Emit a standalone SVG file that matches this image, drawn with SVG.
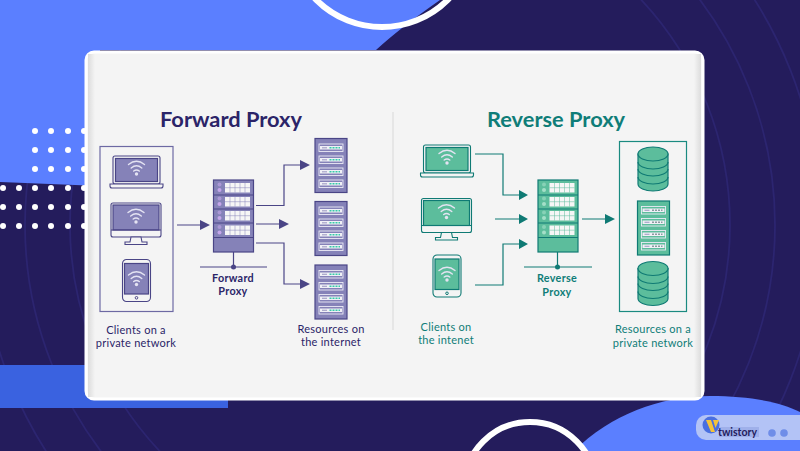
<svg xmlns="http://www.w3.org/2000/svg" width="800" height="451" viewBox="0 0 800 451">
  <style>
    .fw { --s: #4a4586; --o: #6d69a3; --f: #8582b8; --d: #c4a6ea; --t: #2b2468; --m: #35cba8; }
    .rv { --s: #0f7a74; --o: #1a8a80; --f: #5cbd9c; --d: #a4dfc8; --t: #0f7d78; --m: #8a9aa0; }
    .ln { fill: none; stroke: var(--s); stroke-width: 1.2; }
    .body { fill: var(--f); stroke: var(--s); stroke-width: 1.2; }
    .case { fill: #f4f4f4; stroke: var(--s); stroke-width: 1.1; }
    .wifi { fill: none; stroke: #e4e3f2; stroke-width: 1.4; stroke-linecap: round; }
    .wifid { fill: #e4e3f2; }
    .head { fill: var(--s); }
    .title { font: 700 21.800px Lato, "Liberation Sans", sans-serif; text-anchor: middle; fill: var(--t); }
    .lab { font: 400 11px Lato, "Liberation Sans", sans-serif; text-anchor: middle; fill: var(--t); letter-spacing: .25px; }
    .labb { font: 700 10.800px Lato, "Liberation Sans", sans-serif; text-anchor: middle; fill: var(--t); letter-spacing: .3px; }
    .ring { fill: none; stroke: #2c2570; stroke-width: 1.800; }
    .dots circle { fill: #fff; }
  </style>
  <defs>
    <g id="wifi">
      <path class="wifi" d="M-8 -4.500Q0 -11 8 -4.500M-5.300 -1Q0 -5.500 5.300 -1M-2.800 2Q0 0 2.800 2"/>
      <circle class="wifid" cx="0" cy="5" r="1.700"/>
    </g>
    <g id="laptop">
      <rect class="case" x="3" y="0" width="47" height="28" rx="2"/>
      <rect class="body" x="5.500" y="2.500" width="42" height="23" stroke="none"/>
      <path class="case" d="M0 28H53V30Q53 32 51 32H2Q0 32 0 30Z"/>
      <use href="#wifi" x="26.500" y="13"/>
    </g>
    <g id="monitor">
      <rect class="case" x="0" y="0" width="50" height="34" rx="2"/>
      <rect class="body" x="2" y="2" width="46" height="25" stroke="none"/>
      <path class="case" d="M0 27H50"/>
      <path class="case" d="M20 34H30L31 39H36V41.500H14V39H19Z"/>
      <use href="#wifi" x="25" y="14"/>
    </g>
    <g id="tablet">
      <rect class="case" x="0" y="0" width="28" height="42" rx="4"/>
      <rect class="body" x="2" y="4" width="24" height="30.500" stroke="none"/>
      <circle cx="14" cy="38.300" r="1.300" fill="none" stroke="var(--s)"/>
      <use href="#wifi" x="14" y="20"/>
    </g>
    <g id="rack">
      <rect class="body" x="0" y="0" width="40" height="72"/>
      <path class="ln" d="M0 15H40M0 29H40M0 43H40M0 57.500H40"/>
      <g id="rackrow">
        <circle cx="6" cy="4.500" r="2" fill="var(--d)" opacity=".6"/>
        <circle cx="6" cy="10" r="2" fill="var(--d)"/>
        <rect x="11.500" y="3" width="25" height="9.500" fill="#f6f6f6"/>
        <path d="M16.500 3V12.500M21.500 3V12.500M26.500 3V12.500M31.500 3V12.500M11.500 7.700H36.500" stroke="var(--f)" stroke-width=".5"/>
      </g>
      <use href="#rackrow" y="14"/>
      <use href="#rackrow" y="28"/>
      <use href="#rackrow" y="42.500"/>
    </g>
    <g id="unit">
      <rect class="body" x="0" y="0" width="32" height="54"/>
      <g id="unitrow">
        <rect x="4" y="5.500" width="24" height="7.500" fill="var(--f)" stroke="#ecebf5" stroke-width=".9"/>
        <rect x="5" y="7.500" width="22" height="3.500" fill="#f0f0f6"/>
        <path d="M7 9.300H12" stroke="#a5a3c8" stroke-width="1.200"/>
        <path d="M14.500 9.300H25" stroke="var(--m)" stroke-width="1.600" stroke-dasharray="2 1"/>
      </g>
      <use href="#unitrow" y="12"/>
      <use href="#unitrow" y="24"/>
      <use href="#unitrow" y="36"/>
    </g>
    <g id="db">
      <path class="body" d="M0 7V37C0 41 7 44 15 44S30 41 30 37V7Z"/>
      <ellipse class="body" cx="15" cy="7" rx="15" ry="7"/>
      <path class="ln" d="M0 15C0 19 7 22 15 22S30 19 30 15M0 22C0 26 7 29 15 29S30 26 30 22M0 30C0 34 7 37 15 37S30 34 30 30"/>
    </g>
    <clipPath id="page"><rect width="800" height="451"/></clipPath>
    <linearGradient id="edgeL"><stop offset="0" stop-color="#dcdcdc"/><stop offset="1" stop-color="#f4f4f4"/></linearGradient>
    <linearGradient id="edgeR"><stop offset="0" stop-color="#f4f4f4"/><stop offset="1" stop-color="#dcdcdc"/></linearGradient>
  </defs>

  <!-- backdrop -->
  <g id="backdrop" clip-path="url(#page)">
    <rect width="800" height="451" fill="#241c5c"/>
    <circle class="ring" cx="400" cy="225" r="330"/>
    <circle class="ring" cx="400" cy="225" r="375"/>
    <circle class="ring" cx="400" cy="225" r="420"/>
    <path d="M0 0H440Q400 28 376 50H100V186Q50 184 0 182Z" fill="#5b7fff"/>
    <rect x="0" y="365" width="228" height="43" fill="#3a62e0"/>
    <circle cx="382" cy="-66" r="93" fill="none" stroke="#fff" stroke-width="6"/>
    <path d="M574 451C610 415 660 396 710 396C750 396 780 402 800 412V451Z" fill="#5b7fff"/>
    <circle cx="530" cy="488" r="66" fill="#241c5c" stroke="#fff" stroke-width="6"/>
    <g class="dots">
      <circle cx="35" cy="131" r="3"/><circle cx="51" cy="131" r="3"/><circle cx="68" cy="131" r="3"/><circle cx="84" cy="131" r="3"/>
      <circle cx="35" cy="150" r="3"/><circle cx="51" cy="150" r="3"/><circle cx="68" cy="150" r="3"/><circle cx="84" cy="150" r="3"/>
      <circle cx="35" cy="169" r="3"/><circle cx="51" cy="169" r="3"/><circle cx="68" cy="169" r="3"/><circle cx="84" cy="169" r="3"/>
      <circle cx="3" cy="188" r="3"/><circle cx="19" cy="188" r="3"/><circle cx="35" cy="188" r="3"/><circle cx="51" cy="188" r="3"/><circle cx="68" cy="188" r="3"/><circle cx="84" cy="188" r="3"/>
      <circle cx="3" cy="207" r="3"/><circle cx="19" cy="207" r="3"/><circle cx="35" cy="207" r="3"/><circle cx="51" cy="207" r="3"/><circle cx="68" cy="207" r="3"/><circle cx="84" cy="207" r="3"/>
      <circle cx="3" cy="226" r="3"/><circle cx="19" cy="226" r="3"/><circle cx="35" cy="226" r="3"/><circle cx="51" cy="226" r="3"/><circle cx="68" cy="226" r="3"/><circle cx="84" cy="226" r="3"/>
    </g>
    <rect x="86" y="52" width="617" height="347" rx="8" fill="#f4f4f4" stroke="#fff" stroke-width="3"/>
    <rect x="88" y="54" width="7" height="343" fill="url(#edgeL)"/>
    <rect x="694" y="54" width="7" height="343" fill="url(#edgeR)"/>
    <path d="M393 112V330" stroke="#d8d8d8" stroke-width="1"/>
  </g>

  <!-- forward proxy side -->
  <g class="fw">
    <text class="title" x="231" y="127">Forward Proxy</text>
    <g id="fw-clients">
      <rect x="100" y="146.500" width="73" height="165" fill="none" stroke="var(--o)" stroke-width="1.200"/>
      <use href="#laptop" x="110" y="156"/>
      <use href="#monitor" x="111" y="203"/>
      <use href="#tablet" x="122.500" y="259.500"/>
      <text class="lab" x="136" y="334">Clients on a</text>
      <text class="lab" x="136" y="347">private network</text>
    </g>
    <g id="fw-proxy">
      <use href="#rack" x="213.500" y="180"/>
      <path class="ln" d="M233.500 252V267M200 267H267"/>
      <circle cx="233.500" cy="267" r="2.500" fill="var(--s)"/>
      <text class="labb" x="233" y="282">Forward</text>
      <text class="labb" x="233" y="295">Proxy</text>
    </g>
    <g id="fw-resources">
      <use href="#unit" x="315" y="138.500"/>
      <use href="#unit" x="315" y="201.500"/>
      <use href="#unit" x="315" y="265"/>
      <text class="lab" x="331" y="333">Resources on</text>
      <text class="lab" x="331" y="346">the internet</text>
    </g>
    <g id="fw-connectors">
      <path class="ln" d="M177 225H201M256 205.500H284V165H301M256 224H280M256 243H284V284H301"/>
      <path class="head" d="M200 220L210 225L200 230ZM300 160L310 165L300 170ZM279 219L289 224L279 229ZM300 279L310 284L300 289Z"/>
    </g>
  </g>

  <!-- reverse proxy side -->
  <g class="rv">
    <text class="title" x="556" y="127">Reverse Proxy</text>
    <g id="rv-clients">
      <use href="#laptop" x="420.500" y="145"/>
      <use href="#monitor" x="421.500" y="198.500"/>
      <use href="#tablet" x="433" y="255"/>
      <text class="lab" x="446" y="331">Clients on</text>
      <text class="lab" x="446" y="344">the intenet</text>
    </g>
    <g id="rv-proxy">
      <use href="#rack" x="538" y="180"/>
      <path class="ln" d="M557.500 252V267M524 267H592"/>
      <circle cx="557.500" cy="267" r="2.500" fill="var(--s)"/>
      <text class="labb" x="557" y="282">Reverse</text>
      <text class="labb" x="557" y="296">Proxy</text>
    </g>
    <g id="rv-resources">
      <rect x="619.500" y="141.500" width="67" height="170" fill="none" stroke="var(--o)" stroke-width="1.200"/>
      <use href="#db" x="638" y="147"/>
      <use href="#unit" x="637.500" y="201"/>
      <use href="#db" x="638" y="261.500"/>
      <text class="lab" x="653" y="333">Resources on a</text>
      <text class="lab" x="653" y="347">private network</text>
    </g>
    <g id="rv-connectors">
      <path class="ln" d="M475 154H503V195H519M495 219H519M475 285H503V244H519M582 219H606"/>
      <path class="head" d="M519 190L528 195L519 200ZM519 214L528 219L519 224ZM519 239L528 244L519 249ZM605 214L615 219L605 224Z"/>
    </g>
  </g>

  <!-- channel badge -->
  <g id="badge">
    <rect x="696" y="415" width="120" height="25" rx="10" fill="#b3c3f6"/>
    <circle cx="711" cy="425" r="8.500" fill="#4a6fe0"/>
    <path d="M706 420H711L715 432H711Z M713 420H719L715.500 428Z" fill="#f5c33a"/>
    <rect x="719" y="427" width="40" height="10" fill="#9fb0ea"/>
    <text x="718" y="436" font-family="Lato, 'Liberation Sans', sans-serif" font-weight="700" font-size="10.500" fill="#241c5c">twistory</text>
    <circle cx="772" cy="433" r="3.800" fill="#6f8de8"/>
    <circle cx="784" cy="433" r="3.800" fill="#6f8de8"/>
  </g>
</svg>
